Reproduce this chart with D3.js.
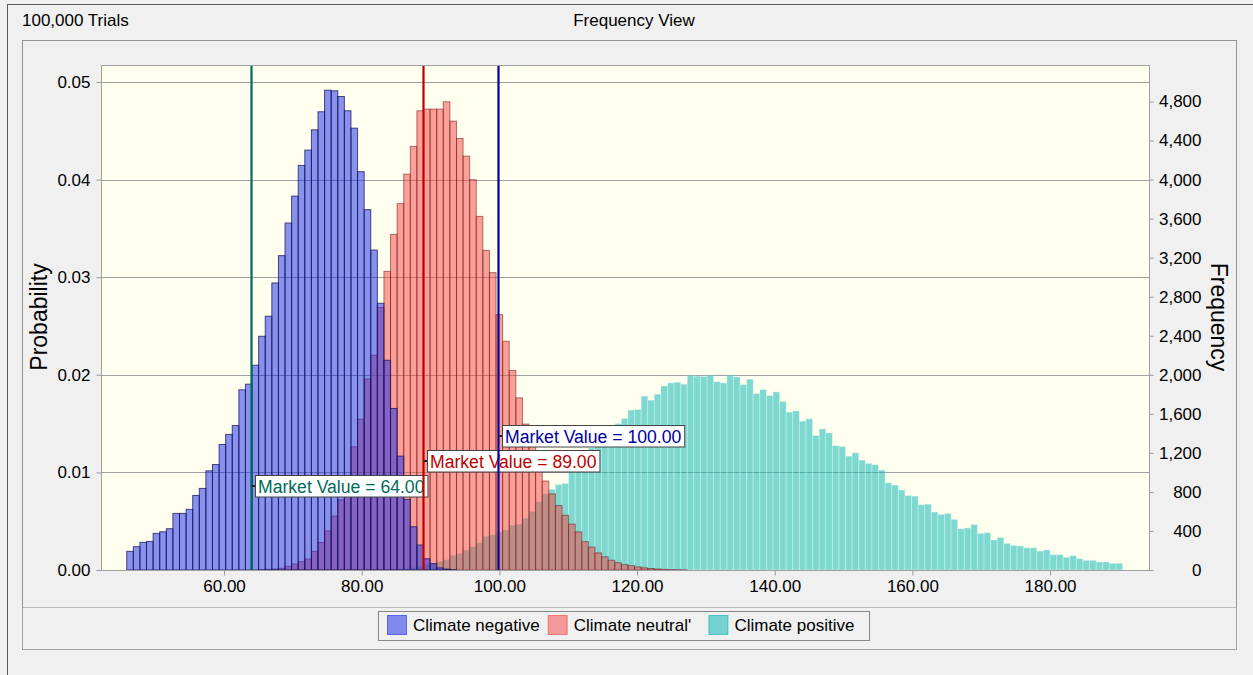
<!DOCTYPE html>
<meta charset="utf-8">
<style>

body {
  margin: 0;
  background: #f0f0f0;
}

svg {
  display: block;
  font-family: "Liberation Sans", Arial, sans-serif;
}

.axis text {
  font-size: 17px;
  fill: #000;
}

.axis line {
  stroke: #999;
}

</style>
<body>
<script src="https://cdn.jsdelivr.net/npm/d3@7"></script>
<script>

var width = 1253,
    height = 675;

// histogram bins (value units), shared by every series
var binStart = 45.87,
    binWidth = 0.958;

// frequency per bin, out of 100,000 trials
var negStart = 0;
var negCounts = [191, 239, 283, 293, 375, 392, 423, 580, 580, 621,
  764, 836, 1016, 1081, 1286, 1389, 1481, 1846, 1904, 2098,
  2395, 2600, 2941, 3221, 3555, 3831, 4145, 4302, 4510, 4695,
  4916, 4910, 4851, 4705, 4527, 4081, 3692, 3278, 2733, 2149,
  1655, 1167, 723, 443, 256, 115, 65, 22, 9, 3];

var neuStart = 20;
var neuCounts = [3, 6, 10, 18, 38, 61, 85, 113, 191, 283,
  402, 553, 720, 860, 1262, 1545, 1958, 2200, 2690, 3060,
  3439, 3753, 4056, 4340, 4705, 4722, 4722, 4722, 4797, 4599,
  4421, 4241, 3999, 3623, 3275, 3047, 2617, 2344, 2044, 1764,
  1495, 1290, 1090, 912, 780, 660, 560, 470, 390, 290,
  235, 175, 135, 100, 75, 55, 44, 32, 22, 15,
  10, 6, 4, 3, 2];

var posStart = 40;
var posCounts = [3, 8, 15, 25, 40, 55, 70, 90, 105, 150,
  170, 205, 240, 280, 345, 360, 390, 410, 460, 470,
  530, 600, 700, 780, 826, 875, 887, 1010, 1100, 1180,
  1250, 1320, 1390, 1440, 1501, 1553, 1638, 1645, 1781, 1740,
  1801, 1886, 1917, 1924, 1904, 1996, 1986, 1983, 1996, 1930,
  1917, 1996, 1979, 1900, 1955, 1808, 1849, 1787, 1825, 1726,
  1617, 1631, 1525, 1549, 1378, 1446, 1405, 1274, 1266, 1167,
  1201, 1126, 1092, 1078, 1024, 894, 870, 819, 764, 757,
  669, 675, 594, 570, 580, 519, 423, 430, 467, 375,
  382, 307, 334, 273, 252, 246, 228, 228, 194, 205,
  157, 157, 130, 147, 116, 99, 99, 82, 82, 68, 68];

var seriesNames = ["Climate negative", "Climate neutral'", "Climate positive"];
var trials = 100000;

var xTicks = [60, 80, 100, 120, 140, 160, 180];
var probTicks = [0, 0.01, 0.02, 0.03, 0.04, 0.05];
var freqTicks = [0, 400, 800, 1200, 1600, 2000, 2400, 2800, 3200, 3600, 4000, 4400, 4800];

var markerValues = [64, 89, 100];
var markerLabels = ["Market Value = 64.00", "Market Value = 89.00", "Market Value = 100.00"];

var colors = {
  neg: {fill: "rgb(26,45,232)", stroke: "#14145a"},
  neu: {fill: "rgb(245,72,71)", stroke: "#6e1414"},
  pos: {fill: "rgb(5,182,179)", stroke: "#ffffff"}
};
var markerColors = ["#006a5c", "#c00000", "#00009c"];

var plot = {left: 101, right: 1149, top: 65, bottom: 570};

var svg = d3.select("body").append("svg")
    .attr("width", width)
    .attr("height", height);

// window frame
svg.append("rect")
    .attr("x", 7.5).attr("y", 4.5)
    .attr("width", width).attr("height", height)
    .attr("fill", "#f0f0f0")
    .attr("stroke", "#5a5a5a");

svg.append("rect")
    .attr("x", 22.5).attr("y", 40.5)
    .attr("width", 1214).attr("height", 609)
    .attr("fill", "none")
    .attr("stroke", "#a0a0a0");

svg.append("rect")
    .attr("x", 22.5).attr("y", 40.5)
    .attr("width", 1214).attr("height", 567)
    .attr("fill", "none")
    .attr("stroke", "#888")
    .attr("stroke-dasharray", "1,1");

svg.append("text")
    .attr("x", 22).attr("y", 26)
    .style("font-size", "17px")
    .text(d3.format(",")(trials) + " Trials");

svg.append("text")
    .attr("x", 634).attr("y", 26)
    .attr("text-anchor", "middle")
    .style("font-size", "17px")
    .text("Frequency View");

var x = d3.scaleLinear()
    .domain([42.13, 194.37])
    .range([plot.left, plot.right]);

var yProb = d3.scaleLinear()
    .domain([0, 0.05174])
    .range([plot.bottom, plot.top]);

var yFreq = d3.scaleLinear()
    .domain([0, 0.05174 * trials])
    .range([plot.bottom, plot.top]);

svg.append("rect")
    .attr("x", plot.left + 0.5).attr("y", plot.top + 0.5)
    .attr("width", plot.right - plot.left).attr("height", plot.bottom - plot.top)
    .attr("fill", "#fffff0");

// gridlines
svg.append("g")
  .selectAll("line")
  .data(probTicks.slice(1))
  .enter().append("line")
    .attr("x1", plot.left).attr("x2", plot.right)
    .attr("y1", function(d) { return Math.round(yProb(d)) + 0.5; })
    .attr("y2", function(d) { return Math.round(yProb(d)) + 0.5; })
    .attr("stroke", "#a0a0a0");

function bins(start, counts) {
  return counts.map(function(c, i) {
    var x0 = binStart + (start + i) * binWidth;
    return {x0: x0, x1: x0 + binWidth, count: c};
  });
}

function drawSeries(data, col, strokeOpacity) {
  svg.append("g")
    .selectAll("rect")
    .data(data)
    .enter().append("rect")
      .attr("x", function(d) { return x(d.x0); })
      .attr("width", function(d) { return x(d.x1) - x(d.x0); })
      .attr("y", function(d) { return yFreq(d.count); })
      .attr("height", function(d) { return plot.bottom - yFreq(d.count); })
      .attr("fill", col.fill)
      .attr("fill-opacity", 0.52)
      .attr("stroke", col.stroke)
      .attr("stroke-opacity", strokeOpacity)
      .attr("stroke-width", 1);
}

drawSeries(bins(posStart, posCounts), colors.pos, 0.3);
drawSeries(bins(neuStart, neuCounts), colors.neu, 0.55);
drawSeries(bins(negStart, negCounts), colors.neg, 0.75);

svg.append("rect")
    .attr("x", plot.left + 0.5).attr("y", plot.top + 0.5)
    .attr("width", plot.right - plot.left).attr("height", plot.bottom - plot.top)
    .attr("fill", "none")
    .attr("stroke", "#a0a0a0");

// axes
var gx = svg.append("g")
    .attr("class", "axis")
    .attr("transform", "translate(0," + (plot.bottom + 0.5) + ")")
    .call(d3.axisBottom(x).tickValues(xTicks).tickFormat(d3.format(".2f")).tickSize(5).tickPadding(4));

var gl = svg.append("g")
    .attr("class", "axis")
    .attr("transform", "translate(" + (plot.left + 0.5) + ",0)")
    .call(d3.axisLeft(yProb).tickValues(probTicks).tickFormat(d3.format(".2f")).tickSize(5).tickPadding(6));

var gr = svg.append("g")
    .attr("class", "axis")
    .attr("transform", "translate(" + (plot.right + 0.5) + ",0)")
    .call(d3.axisRight(yFreq).tickValues(freqTicks).tickFormat(d3.format(",")).tickSize(4));
gr.selectAll("text").attr("text-anchor", "end").attr("x", 52);

svg.selectAll(".axis .domain").remove();

svg.append("text")
    .attr("transform", "translate(47,317) rotate(-90)")
    .attr("text-anchor", "middle")
    .style("font-size", "23px")
    .text("Probability");

svg.append("text")
    .attr("transform", "translate(1211,317) rotate(90)")
    .attr("text-anchor", "middle")
    .style("font-size", "23px")
    .text("Frequency");

// market value markers
markerValues.forEach(function(v, k) {
  var lx = Math.round(x(v)) - 0.5,
      cy = 486 - 25 * k,
      c = markerColors[k];

  svg.append("line")
      .attr("x1", lx).attr("x2", lx)
      .attr("y1", plot.top + 1).attr("y2", plot.bottom)
      .attr("stroke", c)
      .attr("stroke-width", 2.2);

  svg.append("line")
      .attr("x1", lx).attr("x2", lx + 4)
      .attr("y1", cy).attr("y2", cy)
      .attr("stroke", "#222")
      .attr("stroke-width", 2);

  var box = svg.append("rect")
      .attr("x", lx + 4).attr("y", cy - 10.5)
      .attr("height", 21.5)
      .attr("fill", "#fff")
      .attr("stroke", "#444");

  var t = svg.append("text")
      .attr("x", lx + 6.5).attr("y", cy + 6.5)
      .attr("fill", c)
      .style("font-size", "17.6px")
      .text(markerLabels[k]);

  box.attr("width", t.node().getComputedTextLength() + 6);
});

// legend
var legend = svg.append("g");

legend.append("rect")
    .attr("x", 378.5).attr("y", 611.5)
    .attr("width", 491).attr("height", 29)
    .attr("fill", "none")
    .attr("stroke", "#888");

var legendCols = [colors.neg, colors.neu, colors.pos];

seriesNames.forEach(function(name, k) {
  var lx = 387 + 160.7 * k;
  legend.append("rect")
      .attr("x", lx + 0.5).attr("y", 615.5)
      .attr("width", 19).attr("height", 19)
      .attr("fill", legendCols[k].fill)
      .attr("fill-opacity", 0.52)
      .attr("stroke", legendCols[k].fill)
      .attr("stroke-opacity", 0.6);
  legend.append("text")
      .attr("x", lx + 26).attr("y", 631)
      .style("font-size", "17px")
      .text(name);
});

</script>
